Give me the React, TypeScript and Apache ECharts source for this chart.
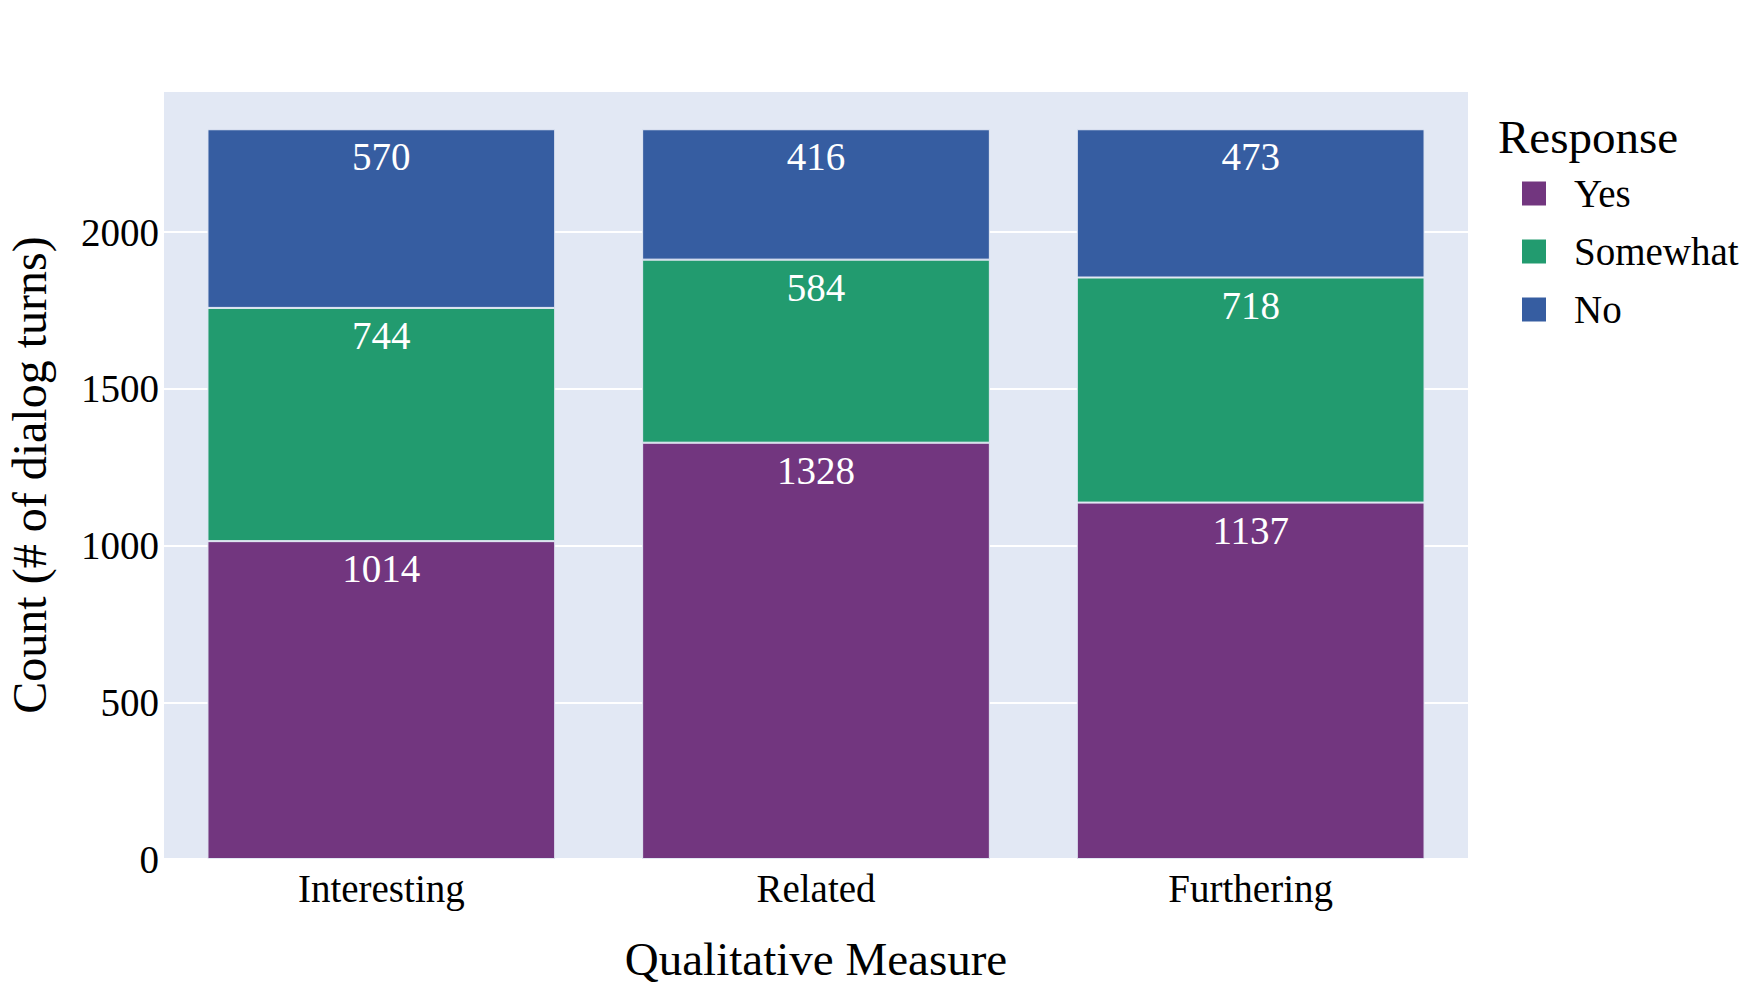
import React, { useEffect, useRef } from "react";
import * as echarts from "echarts";

const categories = ["Interesting", "Related", "Furthering"];
const yesValues = [1014, 1328, 1137];
const somewhatValues = [744, 584, 718];
const noValues = [570, 416, 473];
const seriesNames = ["Yes", "Somewhat", "No"];
const seriesColors = ["#72367F", "#229B6F", "#365DA1"];
const yTicks = [0, 500, 1000, 1500, 2000];

const FONT = "'Liberation Serif', 'Times New Roman', Times, serif";

export default function App() {
  const ref = useRef<HTMLDivElement>(null);
  useEffect(() => {
    document.body.style.margin = "0";
    document.body.style.overflow = "hidden";
    const chart = echarts.init(ref.current!, null, { renderer: "svg" });
    const values = [yesValues, somewhatValues, noValues];
    const option = {
      animation: false,
      backgroundColor: "#FFFFFF",
      textStyle: { fontFamily: FONT },
      grid: {
        left: 164,
        right: 290,
        top: 91,
        bottom: 147,
        show: true,
        backgroundColor: "#E2E8F4",
        borderWidth: 0,
        containLabel: false,
        outerBoundsMode: "none",
      },
      legend: {
        orient: "vertical",
        left: 1522,
        top: 174,
        padding: 0,
        itemWidth: 24,
        itemHeight: 24,
        itemGap: 19,
        icon: "rect",
        data: seriesNames,
        textStyle: {
          fontFamily: FONT,
          fontSize: 39,
          color: "#000000",
          padding: [0, 0, 0, 23],
        },
        itemStyle: { borderWidth: 0 },
      },
      graphic: [
        {
          type: "text",
          left: 1498,
          top: 113,
          style: {
            text: "Response",
            font: `47px ${FONT}`,
            fill: "#000000",
          },
        },
      ],
      xAxis: {
        type: "category",
        data: categories,
        name: "Qualitative Measure",
        nameLocation: "middle",
        nameGap: 76,
        nameTextStyle: { fontFamily: FONT, fontSize: 47, color: "#000000" },
        axisLine: { show: false },
        axisTick: { show: false },
        axisLabel: {
          fontFamily: FONT,
          fontSize: 39,
          color: "#000000",
          margin: 10,
        },
        splitLine: { show: false },
      },
      yAxis: {
        type: "value",
        min: 0,
        max: 2450,
        interval: 500,
        name: "Count (# of dialog turns)",
        nameLocation: "middle",
        nameGap: 112,
        nameTextStyle: {
          fontFamily: FONT,
          fontSize: 48,
          lineHeight: 46,
          color: "#000000",
        },
        axisLine: { show: false },
        axisTick: { show: false },
        axisLabel: {
          fontFamily: FONT,
          fontSize: 39,
          color: "#000000",
          margin: 5,
          showMaxLabel: false,
          formatter: (v: number) => (yTicks.includes(v) ? String(v) : ""),
        },
        splitLine: { show: true, lineStyle: { color: "#FFFFFF", width: 2 } },
      },
      series: seriesNames.map((name, i) => ({
        name,
        type: "bar",
        stack: "total",
        data: values[i],
        barCategoryGap: "20%",
        itemStyle: {
          color: seriesColors[i],
          borderColor: "#E2E8F4",
          borderWidth: 1,
        },
        label: {
          show: true,
          position: "insideTop",
          distance: 8,
          color: "#FFFFFF",
          fontFamily: FONT,
          fontSize: 39,
        },
        emphasis: { disabled: true },
      })),
    };
    chart.setOption(option as any);
    return () => chart.dispose();
  }, []);
  return <div ref={ref} style={{ width: 1758, height: 1006 }} />;
}
